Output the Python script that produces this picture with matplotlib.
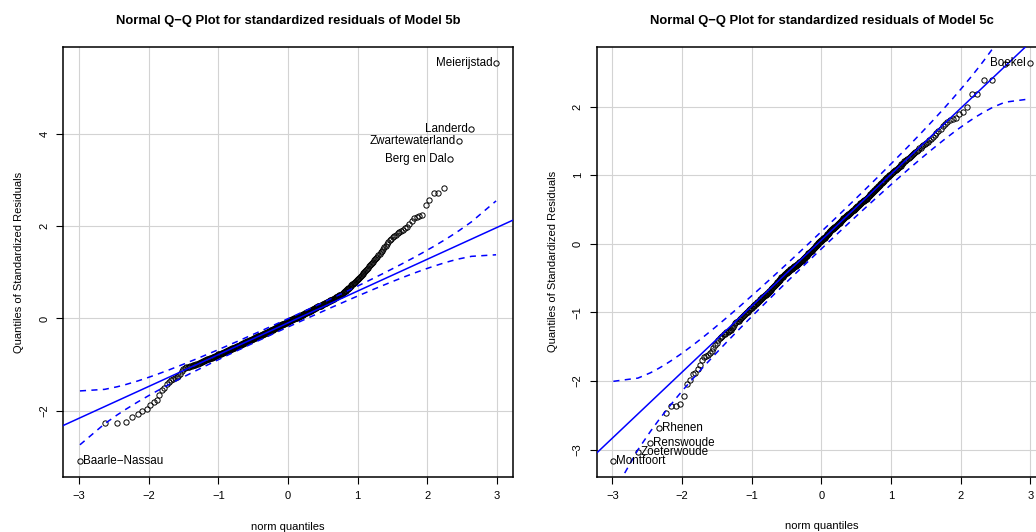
import numpy as np
import matplotlib.pyplot as plt
from statistics import NormalDist

plt.rcParams['font.family'] = ['Liberation Sans', 'DejaVu Sans']

# sorted standardized residuals (n = 355 municipalities)
resid_5b = np.array([
    -3.10, -2.26, -2.26, -2.25, -2.13, -2.07, -2.01, -1.96, -1.87, -1.82,
    -1.76, -1.66, -1.56, -1.50, -1.43, -1.37, -1.33, -1.32, -1.30, -1.28,
    -1.25, -1.21, -1.15, -1.10, -1.08, -1.06, -1.055, -1.05, -1.04, -1.03,
    -1.02, -1.01, -1.00, -0.99, -0.98,
    -0.97, -0.96, -0.95, -0.94, -0.93, -0.92, -0.91, -0.90, -0.89, -0.88,
    -0.87, -0.86, -0.86, -0.85, -0.84, -0.83, -0.83, -0.82, -0.81, -0.80,
    -0.79, -0.78, -0.78, -0.77, -0.76,
    -0.75, -0.75, -0.74, -0.73, -0.73, -0.72, -0.71, -0.71, -0.70, -0.69,
    -0.68, -0.68, -0.67, -0.66, -0.66, -0.65, -0.64, -0.64, -0.63, -0.62,
    -0.61, -0.61, -0.60, -0.60, -0.59, -0.59, -0.58, -0.57, -0.57, -0.56,
    -0.55, -0.55, -0.54, -0.53, -0.53, -0.52, -0.51, -0.51, -0.50, -0.49,
    -0.49, -0.48, -0.48, -0.47, -0.47, -0.46, -0.46, -0.45, -0.45, -0.44,
    -0.43, -0.43, -0.42, -0.42, -0.41, -0.40, -0.40, -0.39, -0.39, -0.38,
    -0.38, -0.37, -0.37, -0.36, -0.36, -0.35, -0.35, -0.34, -0.34, -0.33,
    -0.33, -0.32, -0.32, -0.31, -0.31, -0.30, -0.30, -0.29, -0.29, -0.28,
    -0.27, -0.27, -0.26, -0.26, -0.25, -0.25, -0.24, -0.23, -0.23, -0.22,
    -0.21, -0.21, -0.20, -0.20, -0.19, -0.18, -0.18, -0.17, -0.17, -0.16,
    -0.16, -0.15, -0.15, -0.14, -0.14, -0.13, -0.13, -0.12, -0.12, -0.11,
    -0.10, -0.10, -0.09, -0.09, -0.08, -0.08, -0.07, -0.07,
    -0.06, -0.06, -0.05, -0.05, -0.04, -0.04, -0.03, -0.03,
    -0.02, -0.02, -0.01, -0.01, 0.00, 0.00, 0.01, 0.01, 0.02, 0.02,
    0.03, 0.03, 0.04, 0.04, 0.05, 0.05, 0.06, 0.06, 0.07, 0.07,
    0.08, 0.08, 0.09, 0.10, 0.10, 0.11, 0.11, 0.12, 0.12, 0.13,
    0.14, 0.14, 0.15, 0.15, 0.16, 0.16, 0.17, 0.18, 0.18, 0.19,
    0.20, 0.20, 0.21, 0.21, 0.22, 0.22, 0.23, 0.24, 0.24, 0.25,
    0.26, 0.26, 0.27, 0.27, 0.28, 0.28, 0.29, 0.30, 0.30, 0.31,
    0.32, 0.32, 0.33, 0.33, 0.34, 0.34, 0.35, 0.36, 0.36, 0.37,
    0.38, 0.38, 0.39, 0.40, 0.40, 0.41, 0.42, 0.42, 0.43, 0.44,
    0.45, 0.46, 0.46, 0.47, 0.48, 0.49, 0.50, 0.50, 0.51, 0.52,
    0.53, 0.54, 0.56, 0.57, 0.58, 0.59, 0.60, 0.62, 0.63, 0.64,
    0.66, 0.67, 0.69, 0.70, 0.72, 0.74, 0.75, 0.77, 0.78, 0.80,
    0.82, 0.83, 0.85, 0.86, 0.88, 0.90, 0.92, 0.94, 0.96, 0.98,
    1.00, 1.03, 1.05, 1.08, 1.10, 1.13, 1.15, 1.18, 1.20, 1.23,
    1.26, 1.29, 1.31, 1.34, 1.37, 1.40, 1.44, 1.47, 1.51, 1.54,
    1.58, 1.62, 1.66, 1.70,
    1.73, 1.76, 1.79, 1.82, 1.85, 1.88, 1.90, 1.93, 1.96, 1.99,
    2.05, 2.12, 2.17, 2.20, 2.22, 2.24,
    2.47, 2.57, 2.72, 2.73, 2.84, 3.45, 3.84, 4.11, 5.55,
])

resid_5c = np.array([
    -3.16, -3.03, -2.90, -2.69, -2.46, -2.36, -2.36, -2.33, -2.21, -2.04,
    -1.98, -1.90, -1.88, -1.83, -1.76, -1.69, -1.65, -1.63, -1.62, -1.59,
    -1.56, -1.52, -1.47, -1.44, -1.40, -1.37,
    -1.35, -1.34, -1.32, -1.31, -1.29, -1.28, -1.27, -1.26, -1.25,
    -1.23, -1.21, -1.18, -1.16, -1.14, -1.13, -1.12, -1.10, -1.09, -1.08,
    -1.07, -1.05, -1.04, -1.02, -1.01, -1.00, -0.99, -0.97, -0.96, -0.95,
    -0.94, -0.93, -0.91, -0.90, -0.89,
    -0.88, -0.87, -0.86, -0.85, -0.84, -0.83, -0.82, -0.81, -0.80, -0.79,
    -0.78, -0.77, -0.76, -0.75, -0.75, -0.74, -0.73, -0.72, -0.71, -0.70,
    -0.69, -0.68, -0.67, -0.66, -0.65, -0.64, -0.63, -0.62, -0.61, -0.60,
    -0.59, -0.58, -0.57, -0.56, -0.55, -0.54, -0.53, -0.52, -0.51, -0.50,
    -0.49, -0.48, -0.48, -0.47, -0.46, -0.45, -0.44, -0.44, -0.43, -0.42,
    -0.41, -0.41, -0.40, -0.39, -0.39, -0.38, -0.37, -0.37, -0.36, -0.35,
    -0.35, -0.34, -0.34, -0.33, -0.33, -0.32, -0.32, -0.31, -0.31, -0.30,
    -0.29, -0.29, -0.28, -0.27, -0.27, -0.26, -0.25, -0.25, -0.24, -0.23,
    -0.22, -0.21, -0.21, -0.20, -0.19, -0.18, -0.17, -0.17, -0.16, -0.15,
    -0.14, -0.14, -0.13, -0.12, -0.12, -0.11, -0.10, -0.10, -0.09, -0.08,
    -0.07, -0.06, -0.06, -0.05, -0.04, -0.03, -0.02, -0.02, -0.01, 0.00,
    0.01, 0.01, 0.02, 0.03, 0.03, 0.04, 0.04, 0.05,
    0.06, 0.06, 0.07, 0.08, 0.08, 0.09, 0.09, 0.10,
    0.11, 0.12, 0.13, 0.14, 0.15, 0.15, 0.16, 0.17, 0.18, 0.19,
    0.20, 0.20, 0.21, 0.22, 0.22, 0.23, 0.23, 0.24, 0.24, 0.25,
    0.26, 0.26, 0.27, 0.28, 0.29, 0.29, 0.30, 0.31, 0.31, 0.32,
    0.33, 0.34, 0.35, 0.35, 0.36, 0.37, 0.38, 0.38, 0.39, 0.40,
    0.41, 0.41, 0.42, 0.42, 0.43, 0.44, 0.44, 0.45, 0.45, 0.46,
    0.47, 0.48, 0.48, 0.49, 0.50, 0.50, 0.51, 0.52, 0.52, 0.53,
    0.54, 0.55, 0.55, 0.56, 0.57, 0.58, 0.59, 0.59, 0.60, 0.61,
    0.62, 0.62, 0.63, 0.64, 0.64, 0.65, 0.66, 0.66, 0.67, 0.68,
    0.69, 0.70, 0.71, 0.72, 0.73, 0.74, 0.75, 0.76, 0.77, 0.78,
    0.79, 0.80, 0.81, 0.82, 0.83, 0.84, 0.85, 0.86, 0.87, 0.88,
    0.89, 0.90, 0.91, 0.92, 0.94, 0.95, 0.96, 0.97, 0.98, 0.99,
    1.00, 1.01, 1.02, 1.03, 1.04, 1.05, 1.06, 1.07, 1.08, 1.09,
    1.10, 1.12, 1.13, 1.14, 1.16, 1.17, 1.18, 1.20, 1.21, 1.22,
    1.23, 1.25, 1.26, 1.28, 1.29, 1.31, 1.32, 1.34, 1.35, 1.37,
    1.39, 1.40, 1.42, 1.44, 1.46, 1.47, 1.49, 1.51, 1.53,
    1.56, 1.59, 1.62, 1.65, 1.68, 1.71,
    1.74, 1.78, 1.80, 1.82, 1.84, 1.89, 1.92, 2.00, 2.18, 2.19,
    2.39, 2.39, 2.62, 2.64,
])

# labelled points (rank in sorted order -> municipality)
labels_5b = {0: 'Baarle−Nassau', -1: 'Meierijstad', -2: 'Landerd',
             -3: 'Zwartewaterland', -4: 'Berg en Dal'}
labels_5c = {0: 'Montfoort', 1: 'Zoeterwoude', 2: 'Renswoude', 3: 'Rhenen',
             -1: 'Boekel'}

# robust reference line (intercept, slope) as drawn in the picture
line_5b = (-0.095, 0.69)
line_5c = (0.054, 0.961)

yticks_5b = [-2, 0, 2, 4]
yticks_5c = [-3, -2, -1, 0, 1, 2]
xticks = [-3, -2, -1, 0, 1, 2, 3]

nd = NormalDist()


def qq_panel(ax, res, line, labels, yticks):
    n = len(res)
    z = np.array([nd.inv_cdf((i + 0.5) / n) for i in range(n)])
    p = (np.arange(n) + 0.5) / n
    a, b = line

    # R style axis ranges (4% extension)
    dx = (z.max() - z.min()) * 0.04
    dy = (res.max() - res.min()) * 0.04
    ax.set_xlim(z.min() - dx, z.max() + dx)
    ax.set_ylim(res.min() - dy, res.max() + dy)

    for t in xticks:
        ax.axvline(t, color='#d3d3d3', lw=0.8, zorder=0)
    for t in yticks:
        ax.axhline(t, color='#d3d3d3', lw=0.8, zorder=0)

    ax.plot(z, res, 'o', mfc='none', mec='black', ms=3.8, mew=0.7, zorder=2)

    # reference line + 95% pointwise envelope (car::qqPlot)
    ax.axline((0, a), slope=b, color='blue', lw=1.1, zorder=3)
    dens = np.array([nd.pdf(v) for v in z])
    se = (b / dens) * np.sqrt(p * (1 - p) / n)
    zz = nd.inv_cdf(0.975)
    fit = a + b * z
    ax.plot(z, fit + zz * se, color='blue', lw=1.1, ls=(0, (4, 3.5)), zorder=3)
    ax.plot(z, fit - zz * se, color='blue', lw=1.1, ls=(0, (4, 3.5)), zorder=3)

    for k, name in labels.items():
        if k >= 0:
            ax.annotate(name, (z[k], res[k]), xytext=(2, 0), textcoords='offset points',
                        ha='left', va='center', fontsize=8.4)
        else:
            ax.annotate(name, (z[k], res[k]), xytext=(-2.5, 0), textcoords='offset points',
                        ha='right', va='center', fontsize=8.4)

    ax.set_xticks(xticks)
    ax.set_yticks(yticks)
    ax.set_xticklabels([str(t).replace('-', '−') for t in xticks])
    ax.set_yticklabels([str(t).replace('-', '−') for t in yticks], rotation=90, va='center')
    ax.tick_params(length=5, width=0.8, labelsize=8, pad=5)
    for s in ax.spines.values():
        s.set_linewidth(1.1)
    ax.set_xlabel('norm quantiles', fontsize=8, labelpad=15)
    ax.set_ylabel('Quantiles of Standardized Residuals', fontsize=8, labelpad=11)


fig = plt.figure(figsize=(10.36, 5.32), dpi=100)
ax1 = fig.add_axes([0.0611, 0.1028, 0.4338, 0.8094])
ax2 = fig.add_axes([0.576, 0.1040, 0.4338, 0.8082])

qq_panel(ax1, resid_5b, line_5b, labels_5b, yticks_5b)
qq_panel(ax2, resid_5c, line_5c, labels_5c, yticks_5c)

fig.text(0.278, 1 - 21 / 532, 'Normal Q−Q Plot for standardized residuals of Model 5b',
         ha='center', va='center', fontsize=9.4, fontweight='bold')
fig.text(0.7929, 1 - 21 / 532, 'Normal Q−Q Plot for standardized residuals of Model 5c',
         ha='center', va='center', fontsize=9.4, fontweight='bold')

fig.savefig('out.png', dpi=100)
